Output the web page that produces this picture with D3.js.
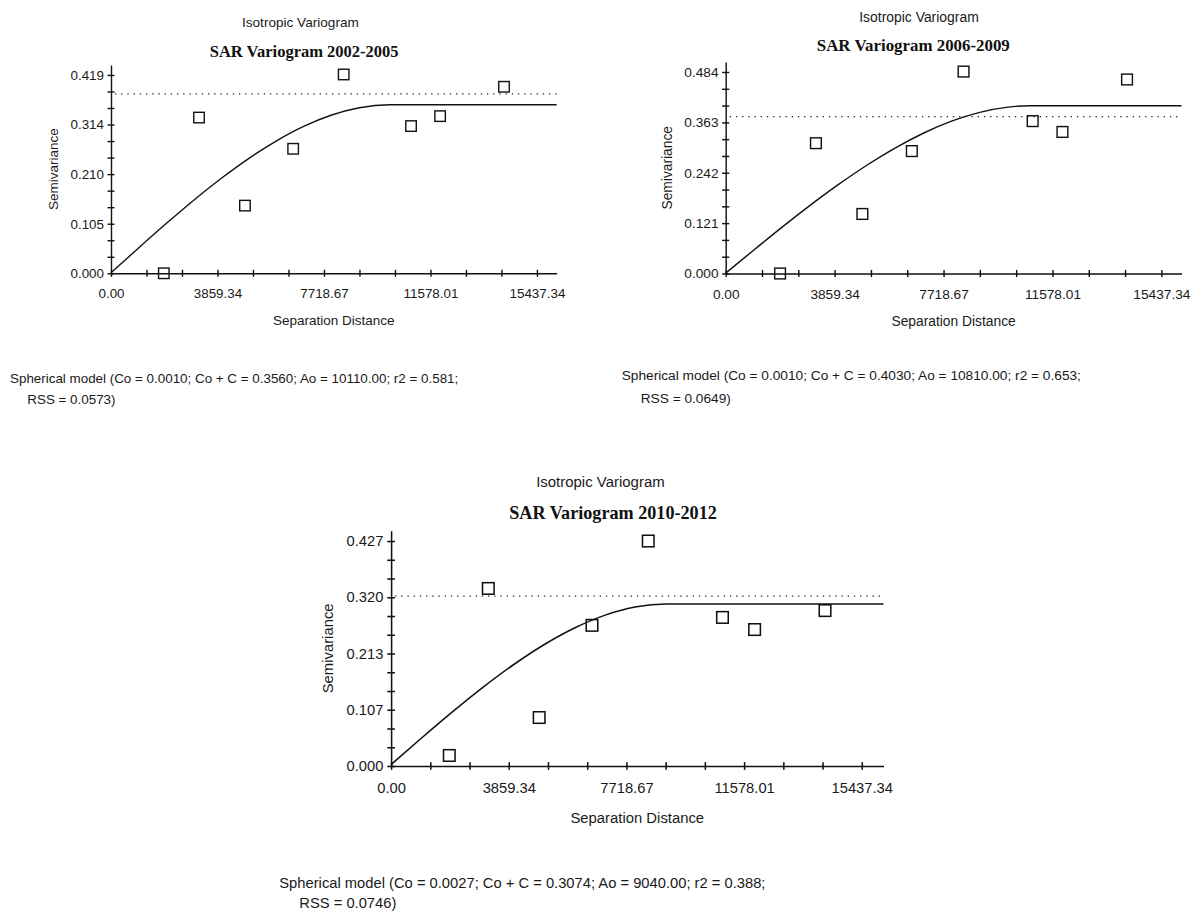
<!DOCTYPE html>
<html>
<head>
<meta charset="utf-8">
<script src="https://cdn.jsdelivr.net/npm/d3@7"></script>
<style>
  body { margin: 0; background: #fff; }
  svg { display: block; }
</style>
</head>
<body>
<svg id="chart" width="1192" height="911"></svg>
<script>

// ---- values ----

// lag classes (separation distance) and semivariance, 2002-2005
var lag1   = [1914, 3190, 4855, 6602, 8433, 10874, 11928, 14244];
var gamma1 = [0.000, 0.329, 0.143, 0.263, 0.420, 0.311, 0.332, 0.394];
// 2006-2009
var lag2   = [1926, 3197, 4843, 6595, 8428, 10876, 11932, 14220];
var gamma2 = [0.000, 0.313, 0.143, 0.294, 0.485, 0.366, 0.340, 0.466];
// 2010-2012
var lag3   = [1908, 3188, 4857, 6589, 8434, 10869, 11923, 14232];
var gamma3 = [0.020, 0.337, 0.092, 0.267, 0.427, 0.282, 0.259, 0.295];

// fitted spherical model curve, sampled along the picture
var modelLag1   = [0, 1000, 2000, 3000, 4000, 5000, 6000, 7000, 8000, 9000, 10110, 16150];
var modelGamma1 = [0.001, 0.0535, 0.105, 0.1544, 0.2007, 0.2429, 0.2799, 0.3108, 0.3344, 0.3498, 0.356, 0.356];
var modelLag2   = [0, 1000, 2000, 3000, 4000, 5000, 6000, 7000, 8000, 9000, 10000, 10810, 16150];
var modelGamma2 = [0.001, 0.0566, 0.1113, 0.1641, 0.2139, 0.26, 0.3013, 0.3369, 0.3658, 0.387, 0.3997, 0.403, 0.403];
var modelLag3   = [0, 1000, 2000, 3000, 4000, 5000, 6000, 7000, 8000, 9040, 16150];
var modelGamma3 = [0.0027, 0.0531, 0.1022, 0.1488, 0.1917, 0.2297, 0.2615, 0.2859, 0.3016, 0.3074, 0.3074];

// dotted line (sample variance)
var sampleVar = [0.379, 0.377, 0.3226];

// tick labels
var xTickLabels  = ["0.00", "3859.34", "7718.67", "11578.01", "15437.34"];
var yTickLabels1 = ["0.000", "0.105", "0.210", "0.314", "0.419"];
var yTickLabels2 = ["0.000", "0.121", "0.242", "0.363", "0.484"];
var yTickLabels3 = ["0.000", "0.107", "0.213", "0.320", "0.427"];

var titles = ["SAR Variogram 2002-2005", "SAR Variogram 2006-2009", "SAR Variogram 2010-2012"];
var captions = [
  ["Spherical model (Co = 0.0010; Co + C = 0.3560; Ao = 10110.00; r2 = 0.581;", "RSS = 0.0573)"],
  ["Spherical model (Co = 0.0010; Co + C = 0.4030; Ao = 10810.00; r2 = 0.653;", "RSS = 0.0649)"],
  ["Spherical model (Co = 0.0027; Co + C = 0.3074; Ao = 9040.00; r2 = 0.388;", "RSS = 0.0746)"]
];

// ---- layout of the three panels ----
var panels = [
  { left: 111, bottom: 273.3, w: 445.6, h: 208.3, xMax: 16150, yMax: 0.44, k: 1,
    lag: lag1, gamma: gamma1, mLag: modelLag1, mGamma: modelGamma1, yLabels: yTickLabels1,
    iso: [300.4, 22.7], title: [304.2, 51.7], cap: [[10, 378], [27.3, 399]] },
  { left: 725.7, bottom: 273.5, w: 455.8, h: 211.5, xMax: 16150, yMax: 0.508, k: 1.023,
    lag: lag2, gamma: gamma2, mLag: modelLag2, mGamma: modelGamma2, yLabels: yTickLabels2,
    iso: [919, 17.3], title: [913.3, 45], cap: [[621.7, 375.3], [640.7, 398.3]] },
  { left: 391.1, bottom: 766, w: 492.4, h: 235.3, xMax: 16150, yMax: 0.4466, k: 1.1,
    lag: lag3, gamma: gamma3, mLag: modelLag3, mGamma: modelGamma3, yLabels: yTickLabels3,
    iso: [600.4, 481.7], title: [613, 512.7], cap: [[279.3, 883], [299.3, 902.7]] }
];

var svg = d3.select("#chart");
var sans = "'Liberation Sans', Arial, sans-serif";
var ink = "#1a1a1a";

panels.forEach(function(p, idx) {
  var k = p.k;
  var x = d3.scaleLinear().domain([0, p.xMax]).range([0, p.w]);
  var y = d3.scaleLinear().domain([0, p.yMax]).range([p.h, 0]);

  var g = svg.append("g")
    .attr("transform", "translate(" + p.left + "," + (p.bottom - p.h) + ")");

  // axes: 12 tick steps, every third one labelled
  var xStep = +xTickLabels[4] / 12;
  var yStep = +p.yLabels[4] / 12;
  var tick = 3.5 * k;

  var xAxis = g.append("g")
    .attr("transform", "translate(0," + p.h + ")")
    .call(d3.axisBottom(x)
      .tickValues(d3.range(13).map(function(i) { return i * xStep; }))
      .tickSizeInner(tick).tickSizeOuter(0).tickPadding(15.3 * k - tick)
      .tickFormat(function(d, i) { return i % 3 == 0 ? xTickLabels[i / 3] : ""; }));
  xAxis.selectAll(".tick line").attr("y1", -tick);

  var yAxis = g.append("g")
    .call(d3.axisLeft(y)
      .tickValues(d3.range(13).map(function(i) { return i * yStep; }))
      .tickSizeInner(tick).tickSizeOuter(0).tickPadding(3.5 * k)
      .tickFormat(function(d, i) { return i % 3 == 0 ? p.yLabels[i / 3] : ""; }));
  yAxis.selectAll(".tick line").attr("x1", tick);

  g.selectAll(".domain, .tick line").attr("stroke", "#111").attr("stroke-width", 1.4 * k);
  g.selectAll(".tick text")
    .attr("fill", ink)
    .style("font-family", sans)
    .style("font-size", (13.4 * k) + "px");

  // dotted sample variance line
  g.append("line")
    .attr("x1", x(0) + 4).attr("x2", x(p.xMax))
    .attr("y1", y(sampleVar[idx])).attr("y2", y(sampleVar[idx]))
    .attr("stroke", "#222")
    .attr("stroke-width", 1.3)
    .attr("stroke-dasharray", "1.3,4.9");

  // model curve
  var model = p.mLag.map(function(d, i) { return { h: d, v: p.mGamma[i] }; });
  var line = d3.line()
    .curve(d3.curveMonotoneX)
    .x(function(d) { return x(d.h); })
    .y(function(d) { return y(d.v); });
  g.append("path")
    .datum(model)
    .attr("d", line)
    .attr("fill", "none")
    .attr("stroke", "#111")
    .attr("stroke-width", 1.4 * k);

  // lag points as hollow squares
  var s = 10.5 * k;
  g.selectAll("rect.pt")
    .data(p.lag.map(function(d, i) { return { h: d, v: p.gamma[i] }; }))
    .enter().append("rect")
    .attr("class", "pt")
    .attr("x", function(d) { return x(d.h) - s / 2; })
    .attr("y", function(d) { return y(d.v) - s / 2; })
    .attr("width", s)
    .attr("height", s)
    .attr("fill", "none")
    .attr("stroke", "#111")
    .attr("stroke-width", 1.4 * k);

  // axis titles
  g.append("text")
    .attr("x", p.w / 2).attr("y", p.h + 46.7 * k)
    .attr("dy", "0.35em")
    .attr("text-anchor", "middle")
    .attr("fill", ink)
    .style("font-family", sans).style("font-size", (13.5 * k) + "px")
    .text("Separation Distance");

  g.append("text")
    .attr("transform", "translate(" + (-57.4 * k) + "," + (p.h / 2) + ") rotate(-90)")
    .attr("dy", "0.35em")
    .attr("text-anchor", "middle")
    .attr("fill", ink)
    .style("font-family", sans).style("font-size", (13.5 * k) + "px")
    .text("Semivariance");

  // headings
  svg.append("text")
    .attr("x", p.iso[0]).attr("y", p.iso[1]).attr("dy", "0.35em")
    .attr("text-anchor", "middle")
    .attr("fill", ink)
    .style("font-family", sans).style("font-size", (13.6 * k) + "px")
    .text("Isotropic Variogram");

  svg.append("text")
    .attr("x", p.title[0]).attr("y", p.title[1]).attr("dy", "0.35em")
    .attr("text-anchor", "middle")
    .attr("fill", "#111")
    .style("font-family", "'Liberation Serif', 'Times New Roman', serif")
    .style("font-weight", "bold")
    .style("font-size", (16.5 * k) + "px")
    .text(titles[idx]);

  // model caption
  captions[idx].forEach(function(c, j) {
    svg.append("text")
      .attr("x", p.cap[j][0]).attr("y", p.cap[j][1]).attr("dy", "0.35em")
      .attr("fill", ink)
      .style("font-family", sans).style("font-size", (13.4 * k) + "px")
      .text(c);
  });
});

</script>
</body>
</html>
